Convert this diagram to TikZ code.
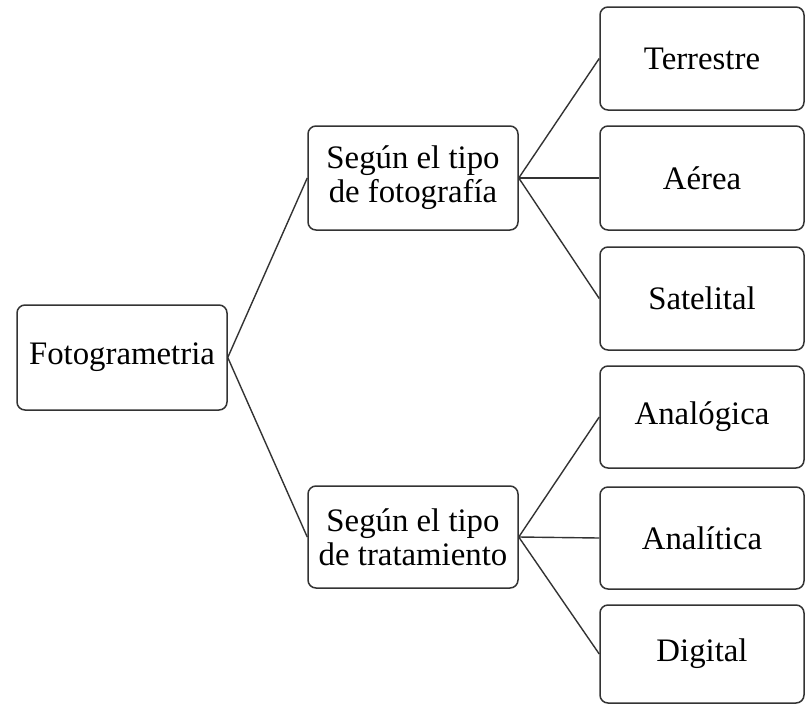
\documentclass[tikz,border=0pt]{standalone}
\usepackage{fontspec}
\setmainfont{Liberation Serif}
\begin{document}
\begin{tikzpicture}[x=1pt,y=-1pt,
  box/.style={draw=black!80, line width=1.5pt, rounded corners=8pt, align=center,
    font=\fontsize{32.8}{34}\selectfont, inner sep=0pt},
  conn/.style={draw=black!80, line width=1.4pt}]
\useasboundingbox (0,0) rectangle (806,705);
\node[box, minimum width=210, minimum height=105] (F) at (122,357.5) {Fotogrametria};
\node[box, minimum width=210, minimum height=104] (S1) at (413,178) {Según el tipo\\de fotografía};
\node[box, minimum width=210, minimum height=102] (S2) at (413,537) {Según el tipo\\de tratamiento};
\node[box, minimum width=204, minimum height=103] (T) at (702,58.5) {Terrestre};
\node[box, minimum width=204, minimum height=104] (A) at (702,178) {Aérea};
\node[box, minimum width=204, minimum height=103] (Sa) at (702,298.5) {Satelital};
\node[box, minimum width=204, minimum height=102] (An) at (702,417) {Analógica};
\node[box, minimum width=204, minimum height=102] (Al) at (702,538) {Analítica};
\node[box, minimum width=204, minimum height=98] (D) at (702,654) {Digital};
\draw[conn] (F.east) -- (S1.west);
\draw[conn] (F.east) -- (S2.west);
\draw[conn] (S1.east) -- (T.west);
\draw[conn] (S1.east) -- (A.west);
\draw[conn] (S1.east) -- (Sa.west);
\draw[conn] (S2.east) -- (An.west);
\draw[conn] (S2.east) -- (Al.west);
\draw[conn] (S2.east) -- (D.west);
\end{tikzpicture}
\end{document}
